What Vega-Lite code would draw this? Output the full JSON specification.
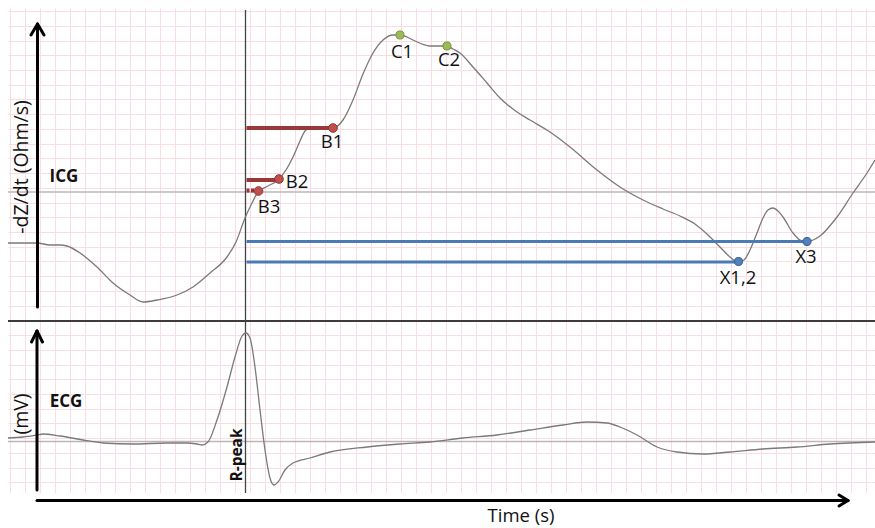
{
  "$schema": "https://vega.github.io/schema/vega-lite/v6.json",
  "width": 867,
  "height": 485,
  "padding": {"left": 8, "top": 8, "right": 0, "bottom": 35},
  "autosize": {"type": "none"},
  "background": "white",
  "config": {"view": {"stroke": null}, "font": "Open Sans"},
  "datasets": {
    "icg": [
      {"x": 8, "y": 243}, {"x": 20, "y": 243}, {"x": 37, "y": 243}, {"x": 50, "y": 245}, {"x": 60, "y": 245},
      {"x": 67, "y": 246}, {"x": 80, "y": 253}, {"x": 97, "y": 267}, {"x": 113, "y": 283}, {"x": 130, "y": 295},
      {"x": 143, "y": 302}, {"x": 157, "y": 300}, {"x": 177, "y": 295}, {"x": 193, "y": 287}, {"x": 210, "y": 273},
      {"x": 227, "y": 257}, {"x": 236, "y": 242}, {"x": 245, "y": 218}, {"x": 252, "y": 203}, {"x": 258, "y": 192},
      {"x": 268, "y": 186}, {"x": 278, "y": 180}, {"x": 286, "y": 170}, {"x": 293, "y": 157}, {"x": 300, "y": 141},
      {"x": 305, "y": 131}, {"x": 312, "y": 127}, {"x": 322, "y": 127}, {"x": 333, "y": 128}, {"x": 343, "y": 120},
      {"x": 353, "y": 100}, {"x": 363, "y": 74}, {"x": 373, "y": 53}, {"x": 383, "y": 40}, {"x": 393, "y": 35},
      {"x": 400, "y": 35}, {"x": 407, "y": 37}, {"x": 413, "y": 40}, {"x": 422, "y": 44}, {"x": 430, "y": 46},
      {"x": 440, "y": 46}, {"x": 447, "y": 46}, {"x": 453, "y": 49}, {"x": 460, "y": 53}, {"x": 473, "y": 67},
      {"x": 487, "y": 83}, {"x": 500, "y": 98}, {"x": 517, "y": 112}, {"x": 530, "y": 120}, {"x": 550, "y": 132},
      {"x": 570, "y": 147}, {"x": 597, "y": 170}, {"x": 620, "y": 187}, {"x": 643, "y": 200}, {"x": 663, "y": 209},
      {"x": 680, "y": 216}, {"x": 695, "y": 224}, {"x": 708, "y": 235}, {"x": 720, "y": 247}, {"x": 730, "y": 257},
      {"x": 738, "y": 262}, {"x": 744, "y": 260}, {"x": 750, "y": 250}, {"x": 757, "y": 233}, {"x": 763, "y": 218},
      {"x": 768, "y": 210}, {"x": 773, "y": 208}, {"x": 778, "y": 211}, {"x": 783, "y": 217}, {"x": 793, "y": 233},
      {"x": 800, "y": 240}, {"x": 807, "y": 242}, {"x": 813, "y": 240}, {"x": 820, "y": 236}, {"x": 837, "y": 217},
      {"x": 853, "y": 193}, {"x": 867, "y": 173}, {"x": 875, "y": 160}
    ],
    "ecg": [
      {"x": 8, "y": 438}, {"x": 23, "y": 437}, {"x": 37, "y": 435}, {"x": 43, "y": 434}, {"x": 60, "y": 436},
      {"x": 83, "y": 440}, {"x": 103, "y": 443}, {"x": 133, "y": 444}, {"x": 167, "y": 443}, {"x": 187, "y": 443},
      {"x": 197, "y": 444}, {"x": 202, "y": 445}, {"x": 208, "y": 442}, {"x": 217, "y": 420}, {"x": 227, "y": 387},
      {"x": 235, "y": 357}, {"x": 242, "y": 336}, {"x": 246, "y": 333}, {"x": 250, "y": 338}, {"x": 255, "y": 367},
      {"x": 260, "y": 410}, {"x": 265, "y": 450}, {"x": 270, "y": 478}, {"x": 274, "y": 485}, {"x": 278, "y": 482},
      {"x": 285, "y": 470}, {"x": 293, "y": 463}, {"x": 310, "y": 458}, {"x": 330, "y": 452}, {"x": 367, "y": 447},
      {"x": 400, "y": 444}, {"x": 430, "y": 442}, {"x": 463, "y": 438}, {"x": 497, "y": 435}, {"x": 530, "y": 430},
      {"x": 563, "y": 425}, {"x": 587, "y": 422}, {"x": 607, "y": 423}, {"x": 620, "y": 427}, {"x": 637, "y": 435},
      {"x": 657, "y": 447}, {"x": 677, "y": 452}, {"x": 703, "y": 454}, {"x": 730, "y": 452}, {"x": 763, "y": 449},
      {"x": 797, "y": 447}, {"x": 830, "y": 444}, {"x": 875, "y": 442}
    ]
  },
  "encoding": {
    "x": {
      "field": "x", "type": "quantitative",
      "scale": {"domain": [8, 875], "nice": false, "zero": false},
      "axis": {
        "title": null, "labels": false, "ticks": false, "domain": false,
        "grid": true, "gridColor": "#fadde3", "gridWidth": 1,
        "values": [10, 25, 40, 55.1, 70.1, 85.1, 100.1, 115.1, 130.2, 145.2, 160.2, 175.2, 190.2, 205.3, 220.3, 235.3, 250.3, 265.3, 280.4, 295.4, 310.4, 325.4, 340.4, 355.5, 370.5, 385.5, 400.5, 415.5, 430.6, 445.6, 460.6, 475.6, 490.6, 505.7, 520.7, 535.7, 550.7, 565.7, 580.8, 595.8, 610.8, 625.8, 640.8, 655.9, 670.9, 685.9, 700.9, 715.9, 731, 746, 761, 776, 791, 806.1, 821.1, 836.1, 851.1, 866.1]
      }
    },
    "y": {
      "field": "y", "type": "quantitative",
      "scale": {"domain": [8, 493], "nice": false, "zero": false, "reverse": true},
      "axis": {
        "title": null, "labels": false, "ticks": false, "domain": false,
        "grid": true, "gridColor": "#fadde3", "gridWidth": 1,
        "values": [11, 25.7, 40.5, 55.2, 69.9, 84.7, 99.4, 114.1, 128.8, 143.6, 158.3, 173, 187.8, 202.5, 217.2, 232, 246.7, 261.4, 276.1, 290.9, 305.6, 320.3, 335.1, 349.8, 364.5, 379.3, 394, 408.7, 423.4, 438.2, 452.9, 467.6, 482.4]
      }
    }
  },
  "layer": [
    {
      "data": {"values": [
        {"x": 8, "y": 192, "x2": 875, "y2": 192},
        {"x": 8, "y": 441.5, "x2": 875, "y2": 441.5}
      ]},
      "mark": {"type": "rule", "color": "#b8b8b8", "strokeWidth": 1.3},
      "encoding": {"x2": {"field": "x2"}, "y2": {"field": "y2"}}
    },
    {
      "data": {"values": [
        {"x": 8, "y": 321, "x2": 875, "y2": 321}
      ]},
      "mark": {"type": "rule", "color": "#3c3c3c", "strokeWidth": 2},
      "encoding": {"x2": {"field": "x2"}, "y2": {"field": "y2"}}
    },
    {
      "data": {"values": [
        {"x": 245.5, "y": 10, "x2": 245.5, "y2": 493}
      ]},
      "mark": {"type": "rule", "color": "#444444", "strokeWidth": 1.3},
      "encoding": {"x2": {"field": "x2"}, "y2": {"field": "y2"}}
    },
    {
      "data": {"name": "icg"},
      "mark": {"type": "line", "color": "#7a7a7a", "strokeWidth": 1.3, "interpolate": "monotone"}
    },
    {
      "data": {"name": "ecg"},
      "mark": {"type": "line", "color": "#7a7a7a", "strokeWidth": 1.3, "interpolate": "monotone"}
    },
    {
      "data": {"values": [
        {"x": 37.5, "y": 24, "x2": 37.5, "y2": 307},
        {"x": 31, "y": 35, "x2": 37.5, "y2": 24},
        {"x": 44, "y": 35, "x2": 37.5, "y2": 24},
        {"x": 37, "y": 331, "x2": 37, "y2": 490},
        {"x": 31.5, "y": 342, "x2": 37, "y2": 331},
        {"x": 42.5, "y": 342, "x2": 37, "y2": 331},
        {"x": 37, "y": 500.5, "x2": 848, "y2": 500.5},
        {"x": 839, "y": 495, "x2": 848, "y2": 500.5},
        {"x": 839, "y": 506, "x2": 848, "y2": 500.5}
      ]},
      "mark": {"type": "rule", "color": "#000000", "strokeWidth": 3, "strokeCap": "round"},
      "encoding": {"x2": {"field": "x2"}, "y2": {"field": "y2"}}
    },
    {
      "data": {"values": [
        {"x": 246.5, "y": 241.5, "x2": 807, "y2": 241.5},
        {"x": 246.5, "y": 262, "x2": 738, "y2": 262}
      ]},
      "mark": {"type": "rule", "color": "#4a7bb7", "strokeWidth": 3.2},
      "encoding": {"x2": {"field": "x2"}, "y2": {"field": "y2"}}
    },
    {
      "data": {"values": [
        {"x": 246.5, "y": 128, "x2": 333, "y2": 128},
        {"x": 246.5, "y": 180, "x2": 279, "y2": 180}
      ]},
      "mark": {"type": "rule", "color": "#983838", "strokeWidth": 4},
      "encoding": {"x2": {"field": "x2"}, "y2": {"field": "y2"}}
    },
    {
      "data": {"values": [
        {"x": 246.5, "y": 190.5, "x2": 258, "y2": 190.5}
      ]},
      "mark": {"type": "rule", "color": "#983838", "strokeWidth": 4, "strokeDash": [3, 1.5]},
      "encoding": {"x2": {"field": "x2"}, "y2": {"field": "y2"}}
    },
    {
      "data": {"values": [
        {"x": 333, "y": 128}, {"x": 279, "y": 179}, {"x": 258.5, "y": 191}
      ]},
      "mark": {"type": "point", "shape": "circle", "filled": true, "size": 75, "color": "#c0504d", "stroke": "#943634", "strokeWidth": 1, "opacity": 1}
    },
    {
      "data": {"values": [
        {"x": 400, "y": 35}, {"x": 447, "y": 46}
      ]},
      "mark": {"type": "point", "shape": "circle", "filled": true, "size": 65, "color": "#9bbb59", "stroke": "#77933c", "strokeWidth": 1, "opacity": 1}
    },
    {
      "data": {"values": [
        {"x": 738.5, "y": 261.5}, {"x": 807, "y": 241.5}
      ]},
      "mark": {"type": "point", "shape": "circle", "filled": true, "size": 65, "color": "#4f81bd", "stroke": "#385d8a", "strokeWidth": 1, "opacity": 1}
    },
    {
      "data": {"values": [
        {"x": 332, "y": 142, "label": "B1"},
        {"x": 297, "y": 182, "label": "B2"},
        {"x": 269, "y": 207, "label": "B3"},
        {"x": 402, "y": 52, "label": "C1"},
        {"x": 449, "y": 60, "label": "C2"},
        {"x": 738, "y": 278, "label": "X1,2"},
        {"x": 806, "y": 257, "label": "X3"}
      ]},
      "mark": {"type": "text", "font": "Open Sans", "fontSize": 18.5, "color": "#111111", "align": "center", "baseline": "middle"},
      "encoding": {"text": {"field": "label"}}
    },
    {
      "data": {"values": [
        {"x": 521, "y": 515.5, "label": "Time (s)"}
      ]},
      "mark": {"type": "text", "font": "Open Sans", "fontSize": 18.5, "color": "#111111", "align": "center", "baseline": "middle"},
      "encoding": {"text": {"field": "label"}}
    },
    {
      "data": {"values": [
        {"x": 64, "y": 177, "label": "ICG"},
        {"x": 66, "y": 402, "label": "ECG"}
      ]},
      "mark": {"type": "text", "font": "Open Sans", "fontSize": 17, "fontWeight": "bold", "color": "#111111", "align": "center", "baseline": "middle"},
      "encoding": {"text": {"field": "label"}}
    },
    {
      "data": {"values": [
        {"x": 22, "y": 167, "label": "-dZ/dt (Ohm/s)"},
        {"x": 22, "y": 414, "label": "(mV)"}
      ]},
      "mark": {"type": "text", "font": "Open Sans", "fontSize": 19.5, "angle": 270, "color": "#111111", "align": "center", "baseline": "middle"},
      "encoding": {"text": {"field": "label"}}
    },
    {
      "data": {"values": [
        {"x": 237, "y": 455, "label": "R-peak"}
      ]},
      "mark": {"type": "text", "font": "Open Sans", "fontSize": 15.5, "fontWeight": "bold", "angle": 270, "color": "#111111", "align": "center", "baseline": "middle"},
      "encoding": {"text": {"field": "label"}}
    }
  ]
}
